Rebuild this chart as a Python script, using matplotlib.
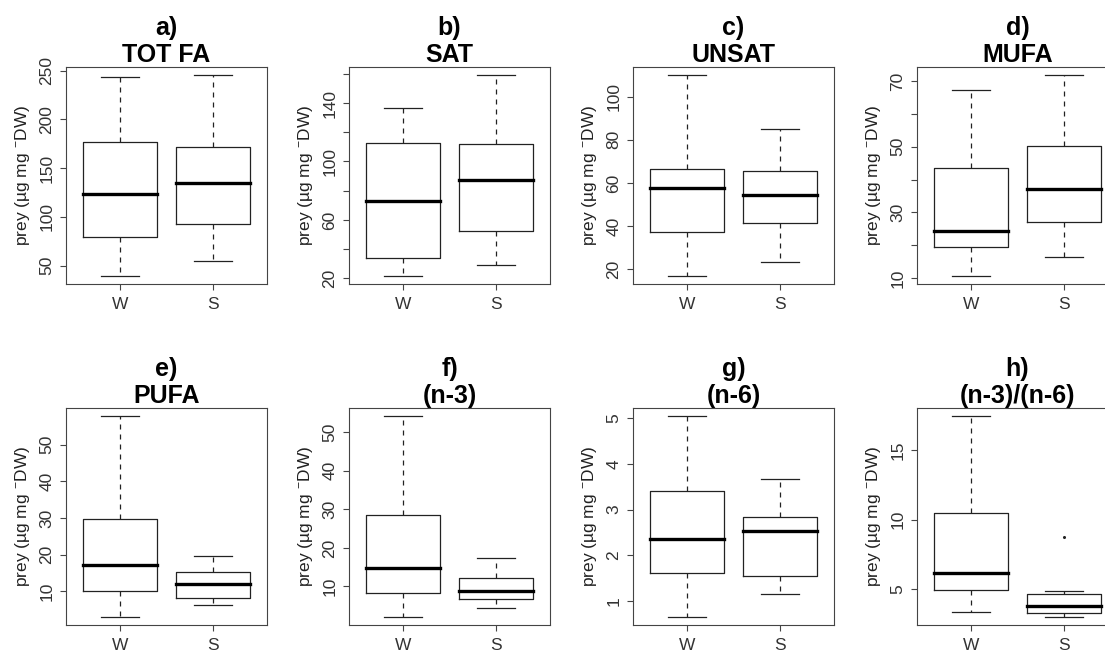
import matplotlib.pyplot as plt

plt.rcParams['font.family'] = ['Liberation Sans', 'DejaVu Sans']
plt.rcParams['mathtext.fontset'] = 'custom'
plt.rcParams['mathtext.rm'] = 'Liberation Sans'

groups = ['W', 'S']
letters = ['a)', 'b)', 'c)', 'd)', 'e)', 'f)', 'g)', 'h)']
names = ['TOT FA', 'SAT', 'UNSAT', 'MUFA', 'PUFA', '(n-3)', '(n-6)', '(n-3)/(n-6)']

tot_fa = [[39.4, 79.1, 123.5, 176.8, 243.2], [54.4, 92.7, 135.1, 171.4, 245.6]]
sat = [[21.6, 34.1, 72.9, 112.4, 136.6], [29.1, 52.2, 87.5, 111.7, 159.2]]
unsat = [[16.9, 37.5, 57.8, 66.6, 110.0], [23.2, 41.5, 54.3, 65.7, 84.9]]
mufa = [[10.7, 19.6, 24.5, 43.4, 67.4], [16.6, 27.0, 37.0, 50.3, 71.8]]
pufa = [[3.0, 10.0, 17.1, 29.8, 57.8], [6.3, 8.2, 11.9, 15.3, 19.6]]
n3 = [[2.1, 8.2, 14.7, 28.5, 54.2], [4.5, 6.8, 8.9, 12.3, 17.3]]
n6 = [[0.66, 1.62, 2.36, 3.40, 5.04], [1.17, 1.55, 2.53, 2.83, 3.67]]
n3_n6 = [[3.34, 4.93, 6.15, 10.48, 17.48], [2.96, 3.22, 3.77, 4.64, 4.83]]
series = [tot_fa, sat, unsat, mufa, pufa, n3, n6, n3_n6]

# outliers (only one, S in panel h)
fliers = [[[], []], [[], []], [[], []], [[], []],
          [[], []], [[], []], [[], []], [[], [8.73]]]

yticks = [[50, 100, 150, 200, 250],
          [20, 40, 60, 80, 100, 120, 140, 160],
          [20, 40, 60, 80, 100],
          [10, 20, 30, 40, 50, 60, 70],
          [10, 20, 30, 40, 50],
          [10, 20, 30, 40, 50],
          [1, 2, 3, 4, 5],
          [5, 10, 15]]
# R drops every other label when they would overlap
label_step = [1, 2, 1, 2, 1, 1, 1, 1]

ylabel = r'prey (µg mg $^{-}$DW)'

W, H = 1105, 650
fig = plt.figure(figsize=(W / 100, H / 100), dpi=100)
lefts = [66, 349, 633, 917]
tops = [67, 408]
aw, ah = 201, 217

dark = '#222222'
for i in range(8):
    r, c = divmod(i, 4)
    ax = fig.add_axes([lefts[c] / W, 1 - (tops[r] + ah) / H, aw / W, ah / H])
    stats = []
    for k in range(2):
        lo, q1, med, q3, hi = series[i][k]
        stats.append(dict(whislo=lo, q1=q1, med=med, q3=q3, whishi=hi,
                          fliers=fliers[i][k], label=groups[k]))
    ax.bxp(stats, positions=[1, 2], widths=0.8, capwidths=0.4,
           boxprops=dict(color=dark, lw=0.9),
           whiskerprops=dict(color=dark, lw=0.9, linestyle=(0, (4, 4))),
           capprops=dict(color=dark, lw=0.9),
           medianprops=dict(color='black', lw=2.4, solid_capstyle='projecting'),
           flierprops=dict(marker='o', markersize=1.2, markerfacecolor=dark,
                           markeredgecolor=dark))
    vals = [v for s in series[i] for v in s] + [v for f in fliers[i] for v in f]
    lo, hi = min(vals), max(vals)
    pad = (hi - lo) * 0.04
    ax.set_ylim(lo - pad, hi + pad)
    ax.set_xlim(0.42, 2.58)
    ax.set_yticks(yticks[i])
    ax.set_yticklabels([str(t) if j % label_step[i] == 0 else ''
                        for j, t in enumerate(yticks[i])])
    ax.set_xticks([1, 2])
    ax.set_xticklabels(groups)
    ax.tick_params(axis='both', direction='out', length=4.5, width=0.8,
                   color='#444444', labelcolor='#333333', labelsize=12.5)
    ax.tick_params(axis='x', pad=5)
    ax.tick_params(axis='y', pad=4)
    for lab in ax.get_yticklabels():
        lab.set_rotation(90)
        lab.set_va('center')
    for sp in ax.spines.values():
        sp.set_color('#444444')
        sp.set_linewidth(0.8)
    ax.set_ylabel(ylabel, fontsize=12.5, color='#222222', labelpad=5)
    ax.set_title(letters[i] + '\n' + names[i], fontsize=18, fontweight='bold',
                 pad=2.5, linespacing=1.15)

fig.savefig('out.png', dpi=100)
